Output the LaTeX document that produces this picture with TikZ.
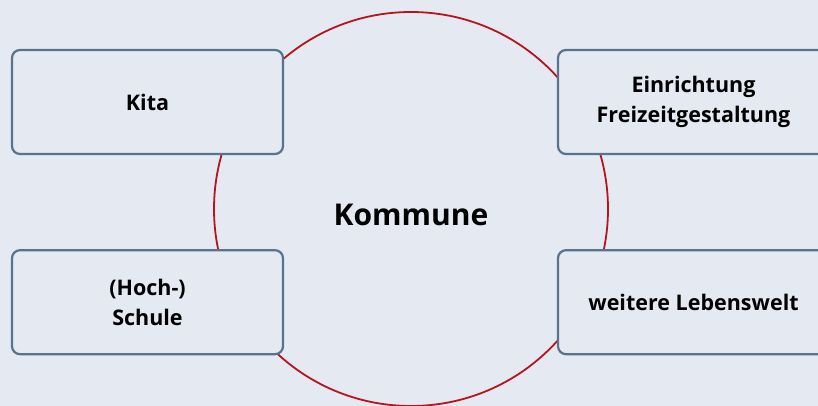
\documentclass[tikz,border=0pt]{standalone}
\usepackage{fontspec}
\setmainfont{Open Sans}
\usepackage{tikz}
\usetikzlibrary{positioning}

\definecolor{bgblue}{HTML}{E4E9F2}
\definecolor{boxline}{HTML}{58738E}
\definecolor{ringred}{HTML}{B8141E}

\tikzset{
  place/.style={draw=boxline, line width=2.2pt, rounded corners=8pt, fill=bgblue,
    minimum width=271pt, minimum height=104pt, align=center,
    font=\fontsize{21.5}{30}\selectfont\bfseries},
}

\begin{document}
\begin{tikzpicture}[x=1pt,y=-1pt]
  \fill[bgblue] (0,0) rectangle (818,406);
  \useasboundingbox (0,0) rectangle (818,406);

  \node (ring) [circle, draw=ringred, line width=1.8pt, minimum size=394pt] at (411,209) {};
  \node (kommune) [font=\fontsize{30}{34}\selectfont\bfseries] at (411,215) {Kommune};

  \node (kita) [place] at (147.5,102) {Kita};
  \node (freizeit) [place] at (693.5,102) {Einrichtung\\Freizeitgestaltung};
  \node (schule) [place, below=94pt of kita] {(Hoch-)\\Schule};
  \node (lebenswelt) [place, below=94pt of freizeit] {weitere Lebenswelt};
\end{tikzpicture}
\end{document}
